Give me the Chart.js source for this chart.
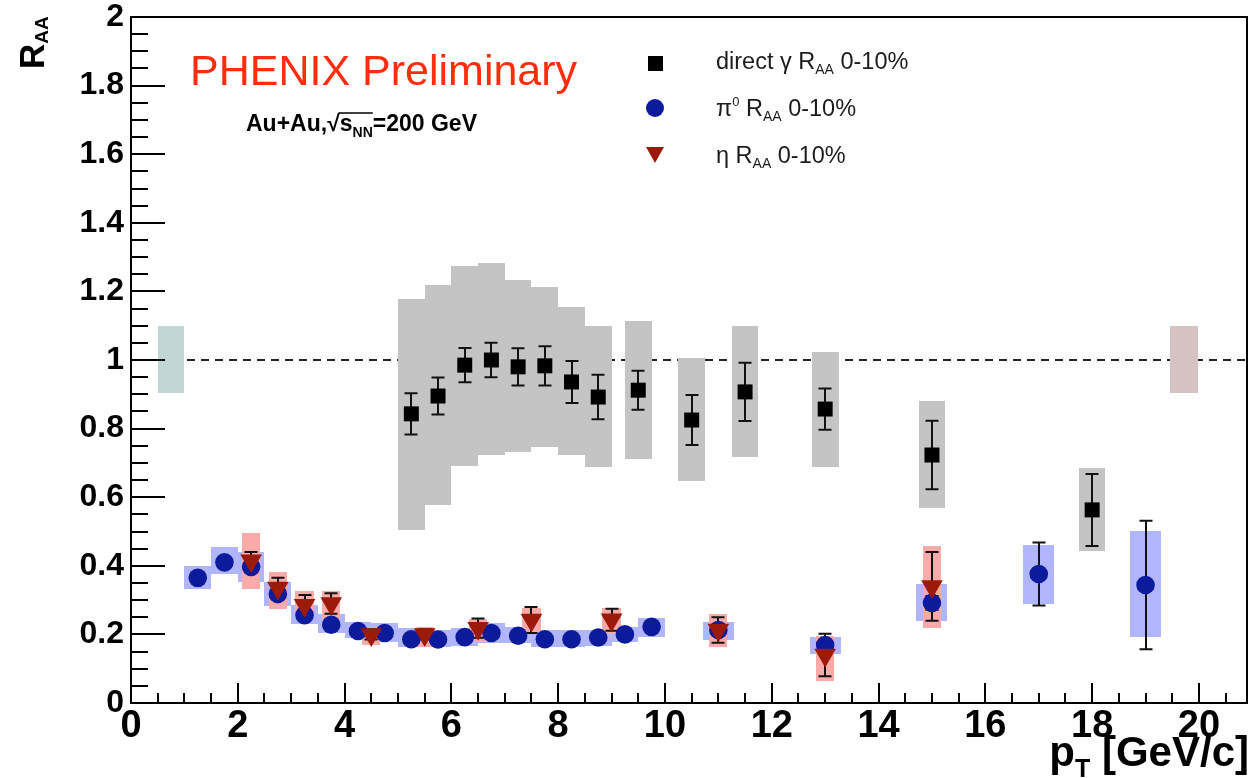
<!DOCTYPE html>
<html>
<head>
  <meta charset="UTF-8">
  <title>R_AA Au+Au 0-10%</title>
  <script src="https://cdn.jsdelivr.net/npm/chart.js"></script>
  <style>
    html, body {
      margin: 0;
      padding: 0;
      background: #fff;
    }
    canvas {
      display: block;
    }
  </style>
</head>
<body>
  <canvas id="raaChart" width="1253" height="778"></canvas>

  <script>
    // direct photon R_AA 0-10%
    const gammaPt    = [5.25, 5.75, 6.25, 6.75, 7.25, 7.75, 8.25, 8.75, 9.5, 10.5, 11.5, 13, 15, 18];
    const gammaRaa   = [0.843, 0.895, 0.985, 1.0, 0.98, 0.983, 0.936, 0.892, 0.912, 0.825, 0.907, 0.857, 0.723, 0.563];
    const gammaErr   = [0.06, 0.054, 0.05, 0.05, 0.054, 0.057, 0.061, 0.065, 0.057, 0.073, 0.085, 0.06, 0.1, 0.105];
    const gammaSysLo = [0.504, 0.577, 0.691, 0.723, 0.732, 0.746, 0.723, 0.688, 0.711, 0.647, 0.717, 0.688, 0.569, 0.443];
    const gammaSysHi = [1.178, 1.219, 1.274, 1.283, 1.233, 1.213, 1.155, 1.099, 1.114, 1.006, 1.099, 1.023, 0.88, 0.685];

    // pi0 R_AA 0-10%
    const pi0Pt    = [1.25, 1.75, 2.25, 2.75, 3.25, 3.75, 4.25, 4.75, 5.25, 5.75, 6.25, 6.75, 7.25, 7.75, 8.25, 8.75, 9.25, 9.75, 11, 13, 15, 17, 19];
    const pi0Raa   = [0.365, 0.41, 0.397, 0.318, 0.256, 0.228, 0.21, 0.204, 0.186, 0.185, 0.192, 0.204, 0.196, 0.186, 0.186, 0.191, 0.2, 0.222, 0.213, 0.169, 0.292, 0.376, 0.344];
    const pi0Err   = [0.006, 0.006, 0.006, 0.005, 0.005, 0.004, 0.004, 0.004, 0.004, 0.004, 0.004, 0.004, 0.004, 0.004, 0.005, 0.005, 0.006, 0.007, 0.012, 0.015, 0.02, 0.092, 0.187];
    const pi0SysLo = [0.332, 0.376, 0.353, 0.283, 0.23, 0.204, 0.19, 0.178, 0.163, 0.163, 0.166, 0.175, 0.175, 0.163, 0.163, 0.166, 0.178, 0.192, 0.184, 0.143, 0.239, 0.289, 0.192];
    const pi0SysHi = [0.4, 0.455, 0.44, 0.353, 0.286, 0.259, 0.236, 0.233, 0.219, 0.213, 0.219, 0.233, 0.222, 0.213, 0.213, 0.213, 0.222, 0.248, 0.236, 0.192, 0.347, 0.461, 0.501];

    // eta R_AA 0-10%
    const etaPt    = [2.25, 2.75, 3.25, 3.75, 4.5, 5.5, 6.5, 7.5, 9, 11, 13, 15];
    const etaRaa   = [0.415, 0.335, 0.285, 0.29, 0.2, 0.2, 0.218, 0.242, 0.243, 0.213, 0.14, 0.34];
    const etaErr   = [0.025, 0.03, 0.03, 0.03, 0.015, 0.015, 0.028, 0.038, 0.032, 0.037, 0.062, 0.1];
    const etaSysLo = [0.332, 0.274, 0.259, 0.245, 0.169, 0.163, 0.178, 0.207, 0.2, 0.163, 0.064, 0.219];
    const etaSysHi = [0.496, 0.382, 0.326, 0.326, 0.222, 0.222, 0.245, 0.277, 0.277, 0.26, 0.195, 0.458];

    // global normalisation boxes at R_AA = 1
    const normPt = [0.75, 19.72];
    const normLo = [0.905, 0.904];
    const normHi = [1.1, 1.1];
    const unity = 1;

    // axes
    const xTicks = [0, 2, 4, 6, 8, 10, 12, 14, 16, 18, 20];
    const yTicks = [0, 0.2, 0.4, 0.6, 0.8, 1, 1.2, 1.4, 1.6, 1.8, 2];
    const yTickLabels = ['0', '0.2', '0.4', '0.6', '0.8', '1', '1.2', '1.4', '1.6', '1.8', '2'];

    const BOLD = '"Liberation Sans", Arial, sans-serif';
    const NARROW = '"Liberation Sans Narrow", "Liberation Sans", Arial, sans-serif';

    const toPoints = (xs, ys) => xs.map((v, i) => ({ x: v, y: ys[i] }));

    // text with sub/superscripts, parts = [[text, fontSize, dy, bold]]
    function drawParts(ctx, x, y, parts, family) {
      parts.forEach(([t, size, dy, bold]) => {
        ctx.font = (bold ? 'bold ' : '') + size + 'px ' + family;
        ctx.fillText(t, x, y + dy);
        x += ctx.measureText(t).width;
      });
      return x;
    }

    const raaExtras = {
      id: 'raaExtras',
      beforeDatasetsDraw(chart) {
        const { ctx, chartArea: a, scales: { x, y } } = chart;
        ctx.save();
        ctx.beginPath();
        ctx.rect(a.left, a.top, a.right - a.left, a.bottom - a.top);
        ctx.clip();

        // dashed line at 1
        ctx.strokeStyle = '#222';
        ctx.lineWidth = 2;
        ctx.setLineDash([8, 6]);
        ctx.beginPath();
        ctx.moveTo(a.left, y.getPixelForValue(unity));
        ctx.lineTo(a.right, y.getPixelForValue(unity));
        ctx.stroke();
        ctx.setLineDash([]);

        const box = (xc, hw, lo, hi, color) => {
          const x0 = Math.round(x.getPixelForValue(xc - hw));
          const x1 = Math.round(x.getPixelForValue(xc + hw));
          const y0 = Math.round(y.getPixelForValue(hi));
          const y1 = Math.round(y.getPixelForValue(lo));
          ctx.fillStyle = color;
          ctx.fillRect(x0, y0, x1 - x0, y1 - y0);
        };

        box(normPt[0], 0.25, normLo[0], normHi[0], '#c3d6d6');
        box(normPt[1], 0.26, normLo[1], normHi[1], '#d6c2c2');
        gammaPt.forEach((p, i) => box(p, 0.25, gammaSysLo[i], gammaSysHi[i], '#c4c4c4'));
        pi0Pt.forEach((p, i) => box(p, p < 10 ? 0.25 : 0.29, pi0SysLo[i], pi0SysHi[i], '#b1b5fc'));
        etaPt.forEach((p, i) => box(p, 0.17, etaSysLo[i], etaSysHi[i], '#fbaaaa'));

        // statistical error bars
        ctx.strokeStyle = '#111';
        ctx.lineWidth = 2;
        const bar = (xc, v, e) => {
          const px = Math.round(x.getPixelForValue(xc));
          const top = y.getPixelForValue(v + e);
          const bot = y.getPixelForValue(v - e);
          ctx.beginPath();
          ctx.moveTo(px, top); ctx.lineTo(px, bot);
          ctx.moveTo(px - 6.5, top); ctx.lineTo(px + 6.5, top);
          ctx.moveTo(px - 6.5, bot); ctx.lineTo(px + 6.5, bot);
          ctx.stroke();
        };
        gammaPt.forEach((p, i) => bar(p, gammaRaa[i], gammaErr[i]));
        pi0Pt.forEach((p, i) => bar(p, pi0Raa[i], pi0Err[i]));
        etaPt.forEach((p, i) => bar(p, etaRaa[i], etaErr[i]));
        ctx.restore();
      },
      afterDraw(chart) {
        const { ctx, chartArea: a, scales: { x, y } } = chart;
        ctx.save();

        // ticks inside the frame
        ctx.strokeStyle = '#000';
        ctx.lineWidth = 2;
        ctx.beginPath();
        for (let v = 0; v <= 20.9; v += 0.5) {
          const px = Math.round(x.getPixelForValue(v));
          const len = (v % 2 === 0) ? 20 : 10;
          ctx.moveTo(px, a.bottom); ctx.lineTo(px, a.bottom - len);
        }
        for (let k = 0; k <= 40; k++) {
          const py = Math.round(y.getPixelForValue(k * 0.05));
          const len = (k % 4 === 0) ? 34 : 17;
          ctx.moveTo(a.left, py); ctx.lineTo(a.left + len, py);
        }
        ctx.stroke();
        ctx.strokeRect(a.left, a.top, a.right - a.left, a.bottom - a.top);

        // y title
        ctx.fillStyle = '#000';
        ctx.textBaseline = 'alphabetic';
        ctx.save();
        ctx.translate(44, 69);
        ctx.rotate(-Math.PI / 2);
        drawParts(ctx, 0, 0, [['R', 35, 0, true], ['AA', 19, 4, true]], BOLD);
        ctx.restore();

        // x title
        ctx.font = 'bold 42px ' + BOLD;
        const wUnit = ctx.measureText(' [GeV/c]').width;
        ctx.font = 'bold 25px ' + BOLD;
        const wT = ctx.measureText('T').width;
        ctx.font = 'bold 42px ' + BOLD;
        const wP = ctx.measureText('p').width;
        const xStart = 1249 - wUnit - wT - wP;
        drawParts(ctx, xStart, 766, [['p', 42, 0, true], ['T', 25, 11, true], [' [GeV/c]', 42, 0, true]], BOLD);

        // PHENIX Preliminary
        ctx.fillStyle = '#ff2d0c';
        ctx.font = '43px ' + BOLD;
        ctx.fillText('PHENIX Preliminary', 190, 85);

        // collision system
        ctx.fillStyle = '#000';
        let cx = drawParts(ctx, 246, 131, [['Au+Au,', 23, 0, true], ['\u221A', 23, 0, true]], BOLD);
        const sStart = cx;
        cx = drawParts(ctx, cx, 131, [['s', 23, 0, true], ['NN', 14, 6, true]], BOLD);
        ctx.lineWidth = 1.5;
        ctx.beginPath();
        ctx.moveTo(sStart - 1, 113); ctx.lineTo(cx, 113);
        ctx.stroke();
        drawParts(ctx, cx, 131, [['=200 GeV', 23, 0, true]], BOLD);

        // legend
        ctx.fillStyle = '#000';
        ctx.fillRect(648, 56, 15, 15);
        ctx.fillStyle = '#0c1a9c';
        ctx.beginPath(); ctx.arc(655, 108, 9, 0, Math.PI * 2); ctx.fill();
        ctx.fillStyle = '#9c1a0a';
        ctx.beginPath();
        ctx.moveTo(646, 147); ctx.lineTo(664, 147); ctx.lineTo(655, 163); ctx.closePath();
        ctx.fill();

        ctx.fillStyle = '#1c1c1c';
        drawParts(ctx, 716, 69, [['direct \u03B3 R', 23.5, 0, false], ['AA', 14, 5, false], [' 0-10%', 23.5, 0, false]], BOLD);
        drawParts(ctx, 716, 116, [['\u03C0', 23.5, 0, false], ['0', 13, -10, false], [' R', 23.5, 0, false], ['AA', 14, 5, false], [' 0-10%', 23.5, 0, false]], BOLD);
        drawParts(ctx, 716, 163, [['\u03B7 R', 23.5, 0, false], ['AA', 14, 5, false], [' 0-10%', 23.5, 0, false]], BOLD);

        ctx.restore();
      }
    };

    const ctx = document.getElementById('raaChart').getContext('2d');
    const raaChart = new Chart(ctx, {
      type: 'scatter',
      data: {
        datasets: [
          {
            label: 'eta',
            data: toPoints(etaPt, etaRaa),
            pointStyle: 'triangle',
            rotation: 180,
            pointRadius: 12.5,
            backgroundColor: '#9c1a0a',
            borderColor: '#9c1a0a',
            borderWidth: 0
          },
          {
            label: 'pi0',
            data: toPoints(pi0Pt, pi0Raa),
            pointStyle: 'circle',
            pointRadius: 9.3,
            backgroundColor: '#0c1a9c',
            borderColor: '#0c1a9c',
            borderWidth: 0
          },
          {
            label: 'direct gamma',
            data: toPoints(gammaPt, gammaRaa),
            pointStyle: 'rect',
            pointRadius: 10.6,
            backgroundColor: '#000',
            borderColor: '#000',
            borderWidth: 0
          }
        ]
      },
      options: {
        responsive: false,
        animation: false,
        layout: { autoPadding: false, padding: { top: 17, right: 6, left: 0, bottom: 0 } },
        scales: {
          x: {
            type: 'linear',
            min: 0,
            max: 20.9,
            afterBuildTicks: s => { s.ticks = xTicks.map(v => ({ value: v })); },
            afterFit: s => { s.height = 75; s.paddingLeft = 0; s.paddingRight = 0; },
            grid: { display: false, drawTicks: false },
            border: { display: false },
            ticks: {
              autoSkip: false,
              maxRotation: 0,
              padding: 1,
              color: '#000',
              font: { family: NARROW, size: 38, weight: 'bold' },
              callback: v => String(v)
            }
          },
          y: {
            type: 'linear',
            min: 0,
            max: 2,
            afterBuildTicks: s => { s.ticks = yTicks.map(v => ({ value: v })); },
            afterFit: s => { s.width = 131; s.paddingTop = 0; s.paddingBottom = 0; },
            grid: { display: false, drawTicks: false },
            border: { display: false },
            ticks: {
              autoSkip: false,
              padding: 7,
              color: '#000',
              font: { family: BOLD, size: 32, weight: 'bold' },
              callback: (v, i) => yTickLabels[i]
            }
          }
        },
        plugins: {
          legend: { display: false },
          tooltip: { enabled: false }
        }
      },
      plugins: [raaExtras]
    });
  </script>
</body>
</html>
